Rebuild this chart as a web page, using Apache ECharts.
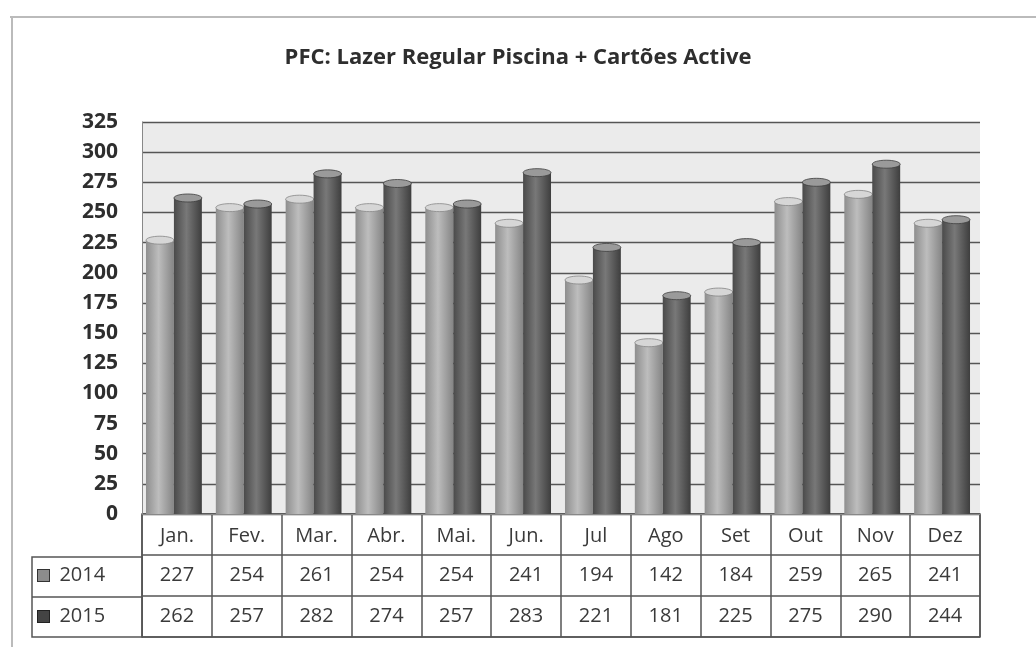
<!DOCTYPE html>
<html>
<head>
<meta charset="utf-8">
<script src="https://cdn.jsdelivr.net/npm/echarts@6/dist/echarts.min.js"></script>
<style>
  html, body { margin: 0; padding: 0; background: #fff; }
  #main { width: 1036px; height: 647px; }
</style>
</head>
<body>
<div id="main"></div>
<script>
  var months = ['Jan.', 'Fev.', 'Mar.', 'Abr.', 'Mai.', 'Jun.', 'Jul', 'Ago', 'Set', 'Out', 'Nov', 'Dez'];
  var years = ['2014', '2015'];
  var values2014 = [227, 254, 261, 254, 254, 241, 194, 142, 184, 259, 265, 241];
  var values2015 = [262, 257, 282, 274, 257, 283, 221, 181, 225, 275, 290, 244];
  var yTicks = [0, 25, 50, 75, 100, 125, 150, 175, 200, 225, 250, 275, 300, 325];

  var font = '"Open Sans", "Liberation Sans", sans-serif';
  var textColor = '#3a3a3a';
  var chart = echarts.init(document.getElementById('main'));

  // cilindro: corpo com gradiente + tampa elíptica
  function cylinder(side, colors, capColor) {
    return function (params, api) {
      var idx = api.value(0);
      var val = api.value(1);
      var top = api.coord([idx, val]);
      var base = api.coord([idx, 0]);
      var band = api.size([1, 0])[0];
      var w = band * 0.4;
      var cx = top[0] - 3;
      var x = side === 0 ? cx - w : cx;
      var capH = 8;
      return {
        type: 'group',
        children: [{
          type: 'rect',
          shape: { x: x, y: top[1], width: w, height: base[1] - top[1] },
          style: {
            fill: new echarts.graphic.LinearGradient(0, 0, 1, 0, [
              { offset: 0, color: colors[0] },
              { offset: 0.45, color: colors[1] },
              { offset: 1, color: colors[2] }
            ])
          }
        }, {
          type: 'ellipse',
          shape: { cx: x + w / 2, cy: top[1], rx: w / 2, ry: capH / 2 },
          style: { fill: capColor, stroke: colors[2], lineWidth: 0.8 }
        }]
      };
    };
  }

  function toPairs(arr) {
    return arr.map(function (v, i) { return [i, v]; });
  }

  // linha da tabela: 1 = 2014, 2 = 2015 (0 é o cabeçalho dos meses)
  function tableCells(arr, row) {
    return arr.map(function (v, i) { return [i, row, v]; });
  }

  chart.setOption({
    animation: false,
    backgroundColor: '#ffffff',
    title: {
      text: 'PFC: Lazer Regular Piscina + Cartões Active',
      left: 'center',
      top: 42,
      textStyle: { fontFamily: font, fontSize: 22, fontWeight: 'bold', color: '#2e2e2e' }
    },
    graphic: [
      { type: 'line', shape: { x1: 10, y1: 17, x2: 1036, y2: 17 }, style: { stroke: '#bbb', lineWidth: 2 } },
      { type: 'line', shape: { x1: 12, y1: 17, x2: 12, y2: 647 }, style: { stroke: '#bbb', lineWidth: 2 } },
      { type: 'rect', shape: { x: 32, y: 557, width: 110, height: 80 }, style: { fill: '#fff', stroke: '#555', lineWidth: 1.5 } },
      { type: 'line', shape: { x1: 32, y1: 597, x2: 142, y2: 597 }, style: { stroke: '#555', lineWidth: 1.5 } }
    ],
    grid: [{
      left: 142, right: 56, top: 122, height: 392,
      show: true, backgroundColor: '#ebebeb', borderWidth: 0
    }, {
      left: 142, right: 56, top: 514, height: 123,
      show: true, backgroundColor: '#fff', borderColor: '#555', borderWidth: 1.5
    }],
    xAxis: [{
      gridIndex: 0,
      type: 'category',
      data: months,
      axisLine: { show: true, lineStyle: { color: '#888' } },
      axisTick: { show: false },
      axisLabel: { margin: 12, fontFamily: font, fontSize: 20, color: textColor, interval: 0 }
    }, {
      gridIndex: 1,
      type: 'category',
      data: months,
      axisLine: { show: false },
      axisTick: { show: false },
      axisLabel: { show: false },
      splitLine: { show: true, interval: 0, lineStyle: { color: '#555', width: 1.5 } }
    }],
    yAxis: [{
      gridIndex: 0,
      type: 'value',
      min: 0, max: 325, interval: 25,
      axisLine: { show: true, lineStyle: { color: '#888' } },
      axisTick: { show: false },
      axisLabel: {
        margin: 24, fontFamily: font, fontSize: 21, fontWeight: 'bold', color: '#2e2e2e',
        formatter: function (v) { return yTicks.indexOf(v) >= 0 ? String(v) : ''; }
      },
      splitLine: { show: true, lineStyle: { color: '#555', width: 1.4 } }
    }, {
      gridIndex: 1,
      type: 'category',
      inverse: true,
      data: [''].concat(years),
      axisLine: { show: false },
      axisTick: { show: false },
      axisLabel: {
        margin: 104, align: 'left',
        fontFamily: font, fontSize: 20, color: textColor,
        formatter: function (v) {
          if (v === years[0]) return '{a|}  ' + v;
          if (v === years[1]) return '{b|}  ' + v;
          return '';
        },
        rich: {
          a: { width: 11, height: 11, backgroundColor: '#8c8c8c', borderColor: '#333', borderWidth: 1 },
          b: { width: 11, height: 11, backgroundColor: '#444', borderColor: '#222', borderWidth: 1 }
        }
      },
      splitLine: { show: true, interval: 0, lineStyle: { color: '#555', width: 1.5 } }
    }],
    series: [{
      name: years[0],
      type: 'custom',
      xAxisIndex: 0, yAxisIndex: 0,
      renderItem: cylinder(0, ['#8e8e8e', '#bdbdbd', '#858585'], '#d6d6d6'),
      data: toPairs(values2014)
    }, {
      name: years[1],
      type: 'custom',
      xAxisIndex: 0, yAxisIndex: 0,
      renderItem: cylinder(1, ['#4a4a4a', '#787878', '#3e3e3e'], '#9a9a9a'),
      data: toPairs(values2015)
    }, {
      type: 'scatter',
      xAxisIndex: 1, yAxisIndex: 1,
      symbolSize: 2,
      itemStyle: { color: 'rgba(255,255,255,0)', opacity: 1 },
      label: {
        show: true, position: 'inside',
        fontFamily: font, fontSize: 20, color: textColor,
        textBorderWidth: 0,
        formatter: function (p) { return p.value[2]; }
      },
      data: tableCells(values2014, 1).concat(tableCells(values2015, 2))
    }]
  });
</script>
</body>
</html>
